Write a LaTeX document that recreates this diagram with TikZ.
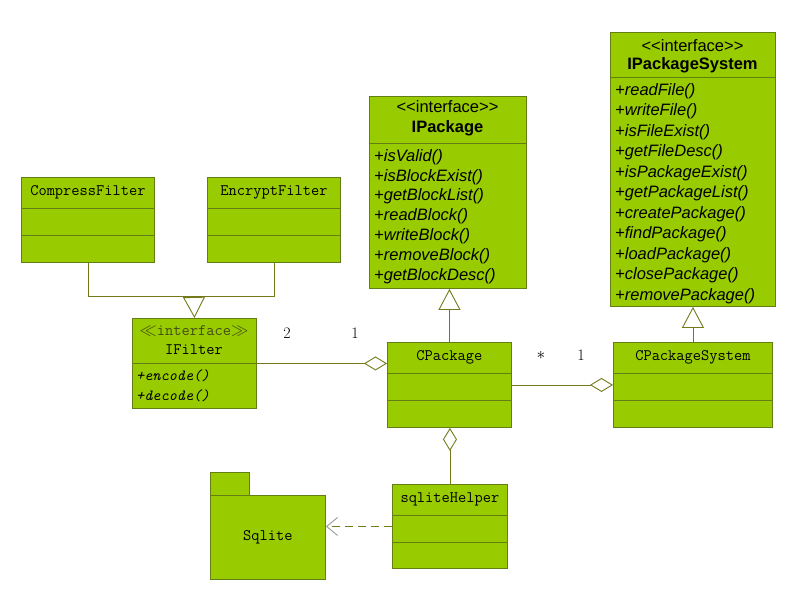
\documentclass[tikz,border=0pt]{standalone}
\usepackage{fontspec}
\setsansfont{Liberation Sans}
\usetikzlibrary{arrows.meta}

\definecolor{umlfill}{RGB}{153,204,0}
\definecolor{umlborder}{RGB}{100,126,22}
\definecolor{umlline}{RGB}{116,122,28}
\definecolor{stereo}{RGB}{66,76,18}
\definecolor{tipgray}{RGB}{150,160,150}

\tikzset{
  classbox/.style={draw=umlborder, fill=umlfill, line width=0.9pt, inner sep=0pt, anchor=north west},
  divider/.style={draw=umlborder, line width=0.9pt},
  classname/.style={font=\fontsize{16}{19}\selectfont\ttfamily, inner sep=0pt},
  ifname/.style={font=\fontsize{16.5}{20}\selectfont\sffamily\bfseries, inner sep=0pt},
  ifstereo/.style={font=\fontsize{16.5}{20}\selectfont\sffamily, inner sep=0pt},
  method/.style={font=\fontsize{16.5}{20}\selectfont\sffamily\itshape, inner sep=0pt, anchor=west},
  ttmethod/.style={font=\fontsize{15.5}{19}\selectfont\ttfamily\itshape, inner sep=0pt, anchor=west},
  mult/.style={font=\fontsize{16}{19}\selectfont, inner sep=0pt},
  umlline/.style={draw=umlline, line width=0.9pt},
  inherit/.style={umlline, -{Triangle[open, length=21pt, width=22pt]}},
  aggreg/.style={umlline, -{Diamond[open, length=23pt, width=14pt]}},
  depend/.style={umlline, dash pattern=on 8pt off 5pt, -{Straight Barb[length=11pt, width=18pt, color=tipgray]}}
}

\begin{document}
\begin{tikzpicture}[x=1pt, y=-1pt]
    \useasboundingbox[fill=white] (0,0) rectangle (808,590);

    % Interface IPackage
    \node[classbox, minimum width=157pt, minimum height=192pt] (ipackage) at (369,96) {};
    \draw[divider] ([yshift=-47pt]ipackage.north west) -- ([yshift=-47pt]ipackage.north east);
    \node[ifstereo] (ipackagest) at (447.5,107) {<{}<interface>{}>};
    \node[ifname] (ipackagenm) at (447.5,128) {IPackage};
    \foreach \m [count=\i from 0] in {+isValid(), +isBlockExist(), +getBlockList(), +readBlock(), +writeBlock(), +removeBlock(), +getBlockDesc()}
        \node[method] (ipm\i) at (374, 157+19.8*\i) {\m};

    % Interface IPackageSystem
    \node[classbox, minimum width=165pt, minimum height=274pt] (ipksys) at (610,32) {};
    \draw[divider] ([yshift=-45pt]ipksys.north west) -- ([yshift=-45pt]ipksys.north east);
    \node[ifstereo] (ipksysst) at (692.5,46) {<{}<interface>{}>};
    \node[ifname] (ipksysnm) at (692.5,65) {IPackageSystem};
    \foreach \m [count=\i from 0] in {+readFile(), +writeFile(), +isFileExist(), +getFileDesc(), +isPackageExist(), +getPackageList(), +createPackage(), +findPackage(), +loadPackage(), +closePackage(), +removePackage()}
        \node[method] (ism\i) at (615, 91+20.5*\i) {\m};

    % Filters
    \node[classbox, minimum width=133pt, minimum height=85pt] (compress) at (21,177) {};
    \draw[divider] ([yshift=-31pt]compress.north west) -- ([yshift=-31pt]compress.north east);
    \draw[divider] ([yshift=-58pt]compress.north west) -- ([yshift=-58pt]compress.north east);
    \node[classname] (compressnm) at ([yshift=-15.5pt]compress.north) {CompressFilter};

    \node[classbox, minimum width=133pt, minimum height=85pt] (encrypt) at (207,177) {};
    \draw[divider] ([yshift=-31pt]encrypt.north west) -- ([yshift=-31pt]encrypt.north east);
    \draw[divider] ([yshift=-58pt]encrypt.north west) -- ([yshift=-58pt]encrypt.north east);
    \node[classname] (encryptnm) at ([yshift=-15.5pt]encrypt.north) {EncryptFilter};

    % Interface IFilter
    \node[classbox, minimum width=124pt, minimum height=90pt] (ifilter) at (132,318) {};
    \draw[divider] ([yshift=-45pt]ifilter.north west) -- ([yshift=-45pt]ifilter.north east);
    \node[classname, text=stereo] (ifilterst) at (194,331) {$\ll$interface$\gg$};
    \node[classname] (ifilternm) at (194,350) {IFilter};
    \node[ttmethod] (encode) at (136,376) {+encode()};
    \node[ttmethod] (decode) at (136,396) {+decode()};

    % Classes
    \node[classbox, minimum width=124pt, minimum height=85pt] (cpackage) at (387,342) {};
    \draw[divider] ([yshift=-31pt]cpackage.north west) -- ([yshift=-31pt]cpackage.north east);
    \draw[divider] ([yshift=-58pt]cpackage.north west) -- ([yshift=-58pt]cpackage.north east);
    \node[classname] (cpackagenm) at ([yshift=-15.5pt]cpackage.north) {CPackage};

    \node[classbox, minimum width=159pt, minimum height=85pt] (cpksys) at (613,342) {};
    \draw[divider] ([yshift=-31pt]cpksys.north west) -- ([yshift=-31pt]cpksys.north east);
    \draw[divider] ([yshift=-58pt]cpksys.north west) -- ([yshift=-58pt]cpksys.north east);
    \node[classname] (cpksysnm) at ([yshift=-15.5pt]cpksys.north) {CPackageSystem};

    \node[classbox, minimum width=115pt, minimum height=84pt] (sqlitehelper) at (392,484) {};
    \draw[divider] ([yshift=-31pt]sqlitehelper.north west) -- ([yshift=-31pt]sqlitehelper.north east);
    \draw[divider] ([yshift=-58pt]sqlitehelper.north west) -- ([yshift=-58pt]sqlitehelper.north east);
    \node[classname] (sqlitehelpernm) at ([yshift=-15.5pt]sqlitehelper.north) {sqliteHelper};

    % Package Sqlite
    \node[classbox, minimum width=39pt, minimum height=23pt] (sqlitetab) at (210,472) {};
    \node[classbox, minimum width=115pt, minimum height=84pt] (sqlite) at (210,495) {};
    \node[classname] (sqlitenm) at (sqlite.center) {Sqlite};

    % Connectors
    \coordinate (fbus) at (194,296.5);
    \draw[umlline] (compress.south) |- (fbus) -| (encrypt.south);
    \draw[inherit] (fbus) -- (ifilter.north);
    \draw[inherit] (cpackage.north) -- (cpackage.north |- ipackage.south);
    \draw[inherit] (cpksys.north) -- (cpksys.north |- ipksys.south);
    \draw[aggreg] (ifilter.east) -- (ifilter.east -| cpackage.west);
    \draw[aggreg] (cpackage.east) -- (cpksys.west);
    \draw[aggreg] (sqlitehelper.north) -- (sqlitehelper.north |- cpackage.south);
    \draw[depend] (sqlitehelper.west) -- (sqlitehelper.west -| sqlite.east);

    % Multiplicities
    \node[mult] (m2) at (287,333) {2};
    \node[mult] (m1a) at (355,333) {1};
    \node[mult] (mstar) at (541,355) {$\ast$};
    \node[mult] (m1b) at (581,355) {1};
\end{tikzpicture}
\end{document}
